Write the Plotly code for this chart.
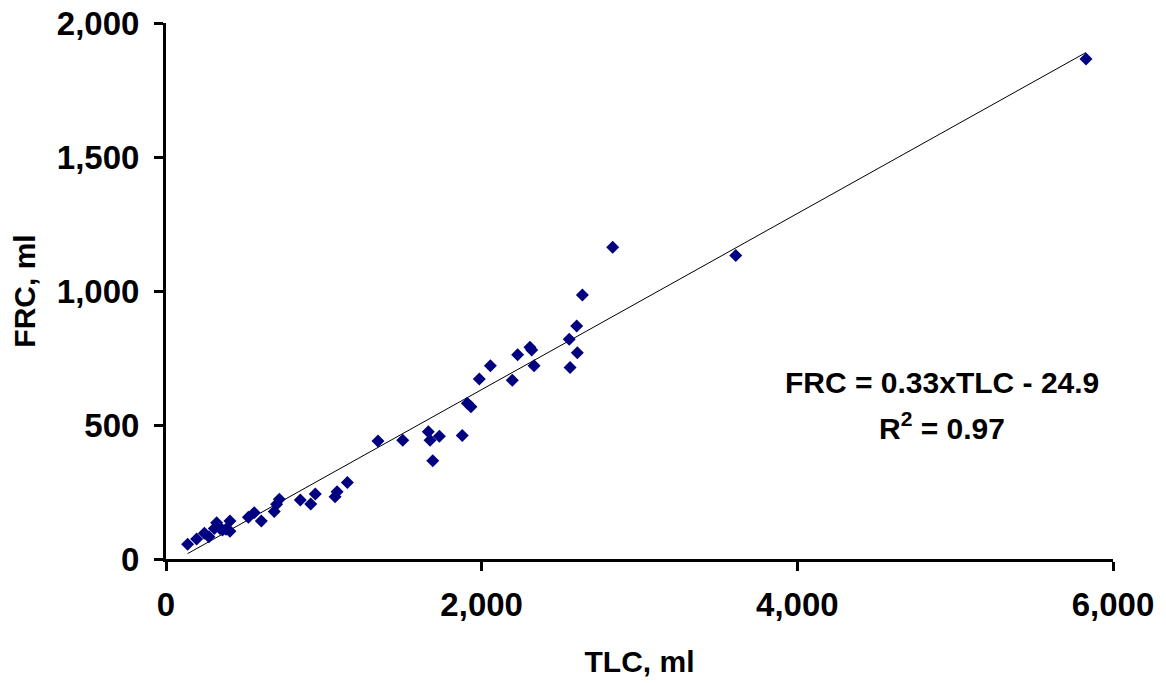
import numpy as np
import plotly.graph_objects as go

# Data (TLC vs FRC, ml)
tlc = [137, 194, 243, 272, 306, 321, 342, 358, 380, 405, 405, 522, 559, 604,
       686, 701, 718, 851, 917, 946, 1071, 1084, 1149, 1343, 1500, 1662, 1673,
       1690, 1732, 1877, 1909, 1932, 1985, 2055, 2194, 2228, 2306, 2317, 2332,
       2555, 2560, 2602, 2606, 2638, 2830, 3610, 5829]
frc = [55, 75, 96, 83, 114, 135, 114, 108, 111, 142, 104, 156, 173, 142,
       177, 204, 223, 220, 205, 243, 232, 251, 285, 440, 443, 475, 443,
       367, 458, 461, 581, 568, 672, 721, 667, 762, 790, 780, 721,
       820, 715, 869, 770, 985, 1163, 1132, 1866]

trend_slope = 0.3285
trend_intercept = -24.9
equation_text = "FRC = 0.33xTLC - 24.9"
r2_text = "R<sup>2</sup> = 0.97"

x_ticks = [0, 2000, 4000, 6000]
y_ticks = [0, 500, 1000, 1500, 2000]

FONT = "Liberation Sans, Arial, sans-serif"

line_x = np.array([min(tlc), max(tlc)])
line_y = trend_slope * line_x + trend_intercept

fig = go.Figure()
fig.add_trace(go.Scatter(x=line_x, y=line_y, mode="lines",
                         line=dict(color="black", width=1), hoverinfo="skip",
                         showlegend=False))
fig.add_trace(go.Scatter(x=tlc, y=frc, mode="markers",
                         marker=dict(symbol="diamond", size=10, color="#000080"),
                         showlegend=False))

fig.add_annotation(x=4917, y=657, xref="x", yref="y", text=f"<b>{equation_text}</b>",
                   showarrow=False, font=dict(family=FONT, size=30, color="black"))
fig.add_annotation(x=4917, y=496, xref="x", yref="y", text=f"<b>{r2_text}</b>",
                   showarrow=False, font=dict(family=FONT, size=30, color="black"))

axis_common = dict(
    showline=True, linecolor="black", linewidth=3, mirror=False,
    showgrid=False, zeroline=False, ticks="outside", ticklen=9, tickwidth=3,
    tickcolor="black", tickformat=",", automargin=False,
    ticklabeloverflow="allow",
    tickfont=dict(family=FONT, size=33, color="black", weight="bold"),
)

fig.update_xaxes(range=[0, 6000], tickvals=x_ticks,
                 title=dict(text="<b>TLC, ml</b>", font=dict(family=FONT, size=30, color="black"),
                            standoff=30),
                 ticklabelstandoff=5, **axis_common)
fig.update_yaxes(range=[0, 2000], tickvals=y_ticks,
                 title=dict(text="<b>FRC, ml</b>", font=dict(family=FONT, size=30, color="black"),
                            standoff=14),
                 ticklabelstandoff=8, **axis_common)

# page body has an 8px margin, so margins are offset to place the plot area
fig.update_layout(
    width=1166, height=683,
    margin=dict(l=158, r=61, t=15, b=132),
    paper_bgcolor="white", plot_bgcolor="white",
    font=dict(family=FONT, color="black"),
)

fig.write_html("out.html")
